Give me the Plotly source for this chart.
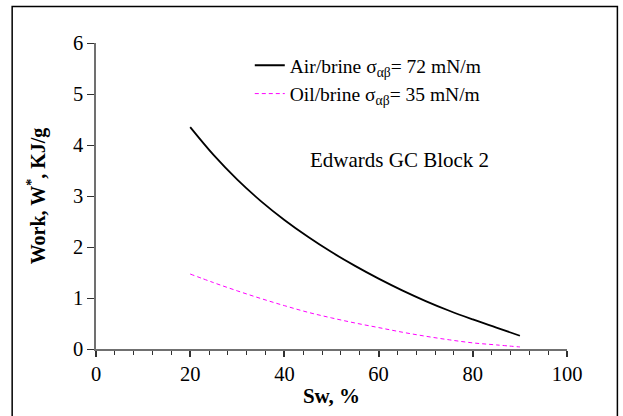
import plotly.graph_objects as go

sw = [20, 25, 30, 35, 40, 45, 50, 55, 60, 65, 70, 75, 80, 85, 90]
air_brine = [4.35, 3.80, 3.32, 2.90, 2.53, 2.20, 1.90, 1.63, 1.38, 1.15, 0.94, 0.75, 0.58, 0.42, 0.26]
oil_brine = [1.47, 1.30, 1.14, 0.99, 0.85, 0.72, 0.61, 0.51, 0.42, 0.33, 0.25, 0.18, 0.12, 0.08, 0.04]

x_ticks = [0, 20, 40, 60, 80, 100]
y_ticks = [0, 1, 2, 3, 4, 5, 6]

FONT = "Liberation Serif, Times New Roman, serif"

fig = go.Figure()
fig.add_trace(go.Scatter(
    x=sw, y=air_brine, mode="lines", line_shape="spline",
    name="Air/brine σ<sub>αβ</sub>= 72 mN/m",
    line=dict(color="black", width=1.8),
))
fig.add_trace(go.Scatter(
    x=sw, y=oil_brine, mode="lines", line_shape="spline",
    name="Oil/brine σ<sub>αβ</sub>= 35 mN/m",
    line=dict(color="#ff00ff", width=1, dash="4px,3px"),
))

fig.update_layout(
    width=623, height=416,
    margin=dict(l=96, r=55.5, t=42.7, b=66.5),
    paper_bgcolor="white", plot_bgcolor="white",
    font=dict(family=FONT, size=19, color="black"),
    showlegend=True,
    legend=dict(x=0.3265, y=0.99, xanchor="left", yanchor="top",
                bgcolor="rgba(0,0,0,0)", itemwidth=30,
                font=dict(family=FONT, size=19.5, color="black")),
    xaxis=dict(
        range=[0, 100], tickvals=x_ticks, ticktext=[str(v) for v in x_ticks],
        showgrid=False, zeroline=False, showline=True, linecolor="#707070", linewidth=1.5,
        ticks="outside", ticklen=6, tickcolor="#303030", tickwidth=1.5,
        minor=dict(dtick=4, ticks="outside", ticklen=4, tickcolor="#303030", tickwidth=1.2),
        tickfont=dict(family=FONT, size=20.5),
        automargin=False,
        title=dict(text="<b>Sw, %</b>", font=dict(family=FONT, size=21), standoff=4),
    ),
    yaxis=dict(
        range=[0, 6], tickvals=y_ticks, ticktext=[str(v) for v in y_ticks],
        showgrid=False, zeroline=False, showline=True, linecolor="#707070", linewidth=1.5,
        ticks="outside", ticklen=7, tickcolor="#303030", tickwidth=1.2,
        tickfont=dict(family=FONT, size=20.5),
        automargin=False,
        title=dict(text="<b>Work, W<sup>*</sup>, KJ/g</b>", font=dict(family=FONT, size=20), standoff=22),
    ),
    annotations=[dict(
        x=(491 - 96) / 4.715, y=3.71, xref="x", yref="y", xanchor="right", yanchor="middle",
        text="Edwards GC Block 2", showarrow=False,
        font=dict(family=FONT, size=21, color="black"),
    )],
    shapes=[dict(
        type="rect", xref="paper", yref="paper",
        x0=-0.178, x1=1.107, y0=-0.4, y1=1.1196,
        line=dict(color="black", width=1.5), fillcolor="rgba(0,0,0,0)", layer="below",
    )],
)

fig.write_html("out.html", config={"displayModeBar": False},
               post_script="document.body.style.margin='0';document.body.style.overflow='hidden';")
